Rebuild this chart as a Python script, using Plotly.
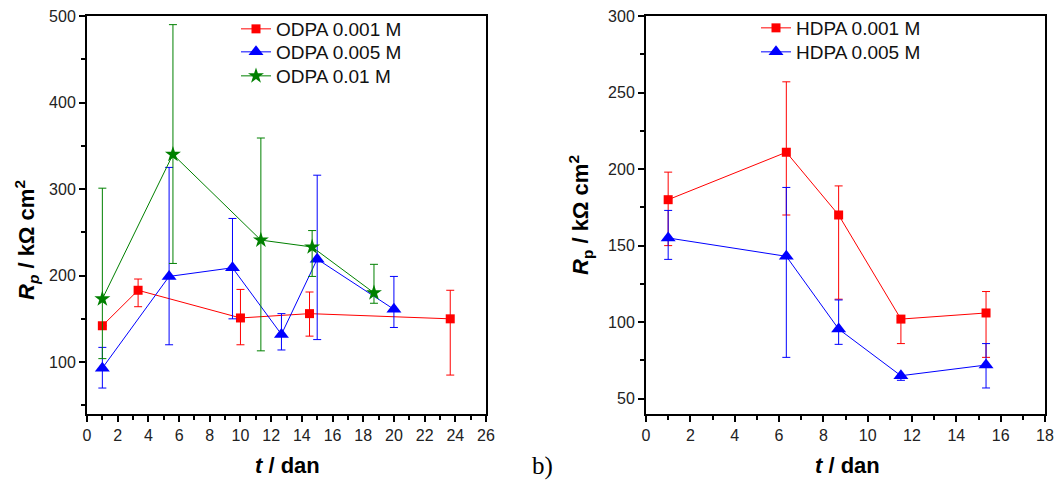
import plotly.graph_objects as go

# ---- Data (left panel: ODPA) ----
odpa001_t = [1, 3.33, 10, 14.5, 23.67]
odpa001_rp = [142, 183, 151, 156, 150]
odpa001_plus = [0, 13, 33, 25, 33]
odpa001_minus = [0, 19, 31, 26, 65]

odpa005_t = [1, 5.35, 9.48, 12.67, 15, 20]
odpa005_rp = [93, 199, 209, 132, 219, 161]
odpa005_plus = [24, 126, 57, 24, 97, 38]
odpa005_minus = [23, 79, 59, 18, 93, 21]

odpa01_t = [1, 5.6, 11.33, 14.67, 18.7]
odpa01_rp = [173, 340, 241, 233, 180]
odpa01_plus = [128, 150, 118, 19, 33]
odpa01_minus = [69, 126, 128, 34, 12]

# ---- Data (right panel: HDPA) ----
hdpa001_t = [1, 6.33, 8.69, 11.5, 15.34]
hdpa001_rp = [180, 211, 170, 102, 106]
hdpa001_plus = [18, 46, 19, 0, 14]
hdpa001_minus = [30, 41, 55, 16, 29]

hdpa005_t = [1, 6.33, 8.69, 11.5, 15.34]
hdpa005_rp = [155, 143, 95.5, 65, 72]
hdpa005_plus = [18, 45, 19, 0, 14]
hdpa005_minus = [14, 66, 10, 3, 15]

RED, BLUE, GREEN = "#ff0000", "#0000ff", "#008000"
W, H = 1056, 495
ML, MR, MT, MB = 87, 11, 16, 81
PW, PH = W - ML - MR, H - MT - MB


def px(x):
    return (x - ML) / PW


def py(y):
    return (H - MB - y) / PH


fig = go.Figure()


def add(t, rp, plus, minus, name, color, symbol, size, xa, ya, legend):
    fig.add_trace(go.Scatter(
        x=t, y=rp, name=name, mode="lines+markers", showlegend=True,
        line=dict(color=color, width=1),
        marker=dict(color=color, symbol=symbol, size=size, line=dict(width=0)),
        error_y=dict(type="data", array=plus, arrayminus=minus, symmetric=False,
                     color=color, thickness=1, width=4),
        xaxis=xa, yaxis=ya, legend=legend,
    ))


add(odpa001_t, odpa001_rp, odpa001_plus, odpa001_minus, "ODPA 0.001 M", RED, "square", 9, "x", "y", "legend")
add(odpa005_t, odpa005_rp, odpa005_plus, odpa005_minus, "ODPA 0.005 M", BLUE, "triangle-up", 13, "x", "y", "legend2")
add(odpa01_t, odpa01_rp, odpa01_plus, odpa01_minus, "ODPA 0.01 M", GREEN, "star", 12, "x", "y", "legend3")
add(hdpa001_t, hdpa001_rp, hdpa001_plus, hdpa001_minus, "HDPA 0.001 M", RED, "square", 9, "x2", "y2", "legend4")
add(hdpa005_t, hdpa005_rp, hdpa005_plus, hdpa005_minus, "HDPA 0.005 M", BLUE, "triangle-up", 13, "x2", "y2", "legend5")

tickfont = dict(family="Arial, Liberation Sans, sans-serif", size=16, color="#222")
axis_common = dict(showline=True, linecolor="black", linewidth=2, mirror=True,
                   ticks="outside", ticklen=6, tickwidth=1.5, tickcolor="black",
                   showgrid=False, zeroline=False, tickfont=tickfont, automargin=False,
                   minor=dict(ticks="outside", ticklen=4, tickwidth=1.5, tickcolor="black"))


def leg(xpix, ypix):
    return dict(x=px(xpix), y=py(ypix), xanchor="left", yanchor="top",
                bgcolor="rgba(0,0,0,0)", font=dict(size=19, color="#111"),
                itemsizing="trace", visible=True)


fig.update_layout(
    width=W, height=H, showlegend=True,
    margin=dict(l=ML, r=MR, t=MT, b=MB, autoexpand=False),
    paper_bgcolor="white", plot_bgcolor="white",
    font=dict(family="Arial, Liberation Sans, sans-serif", color="black"),
    xaxis=dict(domain=[0, px(486)], range=[0, 26], dtick=2, tick0=0,
               anchor="y", **axis_common),
    yaxis=dict(domain=[0, 1], range=[40, 500], dtick=100, tick0=0,
               anchor="x", **axis_common),
    xaxis2=dict(domain=[px(646), 1], range=[0, 18], dtick=2, tick0=0,
                anchor="y2", **axis_common),
    yaxis2=dict(domain=[0, 1], range=[40, 300], dtick=50, tick0=0,
                anchor="x2", **axis_common),
    legend=leg(236, 10),
    legend2=leg(236, 33),
    legend3=leg(236, 57),
    legend4=leg(756, 9),
    legend5=leg(756, 33),
)

fig.layout.xaxis.minor.dtick = 1
fig.layout.xaxis2.minor.dtick = 1
fig.layout.yaxis.minor.dtick = 50
fig.layout.yaxis2.minor.dtick = 25

title_font = dict(family="Arial, Liberation Sans, sans-serif", size=22, color="black")
ann = [
    dict(text="<b><i>t</i> / dan</b>", x=px(287), y=py(465)),
    dict(text="<b><i>t</i> / dan</b>", x=px(847), y=py(465)),
    dict(text="<b><i>R</i><sub><i>p</i></sub> / kΩ cm<sup>2</sup></b>", x=px(26), y=py(240),
         textangle=-90),
    dict(text="<b><i>R</i><sub>p</sub> / kΩ cm<sup>2</sup></b>", x=px(580), y=py(215),
         textangle=-90),
]
for a in ann:
    a.update(xref="paper", yref="paper", showarrow=False, font=title_font,
             xanchor="center", yanchor="middle")
ann.append(dict(text="b)", x=px(542), y=py(466), xref="paper", yref="paper", showarrow=False,
                font=dict(family="Liberation Serif, Times New Roman, serif", size=25, color="black"),
                xanchor="center", yanchor="middle"))
fig.update_layout(annotations=ann)

fig.write_html("out.html", config={"displayModeBar": False},
               post_script="document.body.style.margin='0';")
